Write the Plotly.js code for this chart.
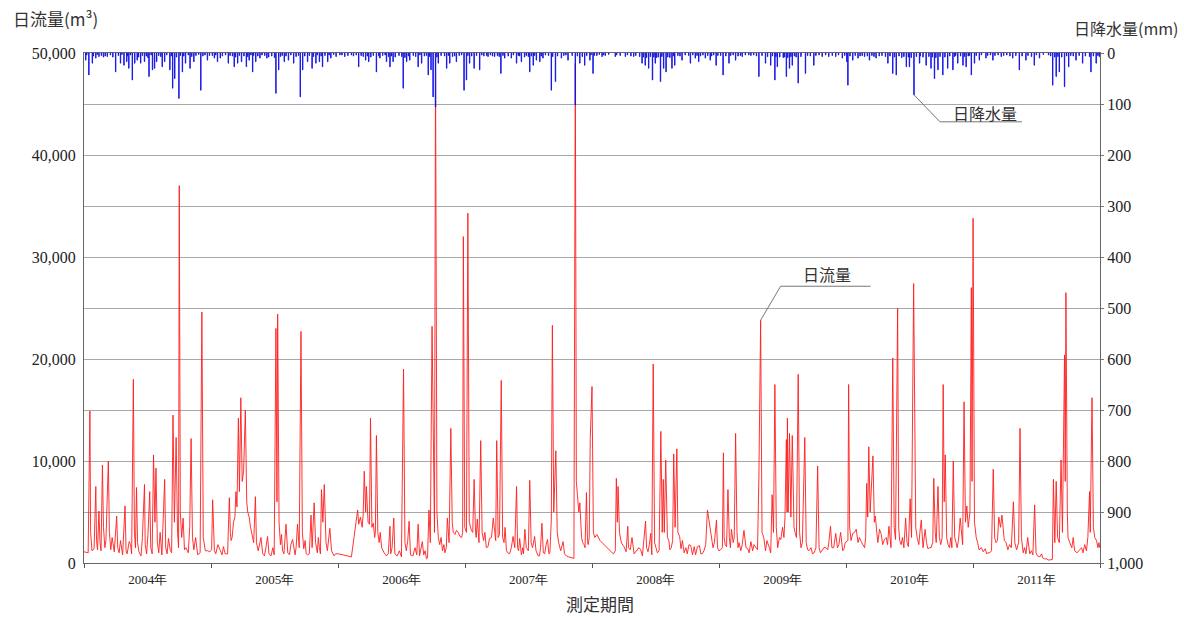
<!DOCTYPE html>
<html>
<head>
<meta charset="utf-8">
<script src="https://cdn.plot.ly/plotly-3.0.1.min.js"></script>
<style>
html,body{margin:0;padding:0;background:#fff;}
#chart{width:1184px;height:618px;}
</style>
</head>
<body>
<div id="chart"></div>
<script>
// ---- Daily flow (m3): peaks and shoulders ----
const flowDates = [
// 2004
'2004-01-01','2004-01-13','2004-01-18','2004-01-20','2004-01-30','2004-02-04','2004-02-06','2004-02-13','2004-02-16','2004-02-23','2004-02-26','2004-03-04','2004-03-11','2004-03-14','2004-03-28','2004-04-04','2004-04-07','2004-04-21','2004-04-28','2004-05-01','2004-05-10','2004-05-17','2004-05-22','2004-05-25','2004-05-31','2004-06-03','2004-06-13','2004-06-23','2004-06-25','2004-07-08','2004-07-11','2004-07-19','2004-07-23','2004-07-26','2004-07-30','2004-08-12','2004-08-20','2004-08-23','2004-09-05','2004-09-13','2004-09-17','2004-09-22','2004-09-26','2004-10-01','2004-10-04','2004-10-12','2004-10-20','2004-11-04','2004-11-08','2004-11-23','2004-12-05','2004-12-09','2004-12-22',
// 2005
'2005-01-02','2005-01-05','2005-01-10','2005-01-29','2005-02-05','2005-02-17','2005-02-22','2005-02-27','2005-03-06','2005-03-13','2005-03-16','2005-03-20','2005-03-23','2005-03-27','2005-03-31','2005-04-04','2005-04-09','2005-04-13','2005-04-20','2005-04-30','2005-05-08','2005-05-11','2005-05-24','2005-05-29','2005-06-12','2005-06-22','2005-07-06','2005-07-09','2005-07-11','2005-07-15','2005-07-25','2005-08-04','2005-08-09','2005-08-23','2005-08-30','2005-09-06','2005-09-11','2005-09-16','2005-09-20','2005-10-05','2005-10-15','2005-10-18','2005-10-24','2005-10-28','2005-11-08','2005-11-14','2005-11-18','2005-11-22','2005-11-27','2005-12-08','2005-12-13','2005-12-25',
// 2006
'2006-01-01','2006-02-08','2006-02-16','2006-02-20','2006-02-26','2006-03-01','2006-03-06','2006-03-11','2006-03-17','2006-03-21','2006-03-23','2006-03-28','2006-04-04','2006-04-08','2006-04-12','2006-04-16','2006-04-21','2006-04-25','2006-05-06','2006-05-20','2006-05-30','2006-06-01','2006-06-10','2006-06-13','2006-07-02','2006-07-08','2006-07-12','2006-07-24','2006-07-28','2006-08-19','2006-08-23','2006-08-31','2006-09-12','2006-09-19','2006-09-23','2006-09-28','2006-10-02','2006-10-08','2006-10-12','2006-10-20','2006-11-04','2006-11-11','2006-11-16','2006-11-21','2006-11-25','2006-12-03','2006-12-12','2006-12-22','2006-12-27','2006-12-31',
// 2007
'2007-01-05','2007-01-09','2007-01-13','2007-01-19','2007-01-27','2007-01-31','2007-02-05','2007-02-10','2007-02-15','2007-02-19','2007-03-03','2007-03-18','2007-03-23','2007-03-27','2007-04-02','2007-04-06','2007-04-15','2007-04-19','2007-04-30','2007-05-09','2007-05-19','2007-05-24','2007-05-29','2007-06-01','2007-06-07','2007-06-12','2007-06-22','2007-06-26','2007-07-06','2007-07-10','2007-07-20','2007-07-30','2007-08-10','2007-08-14','2007-08-26','2007-09-02','2007-09-06','2007-09-09','2007-09-13','2007-09-19','2007-09-23','2007-10-03','2007-10-10','2007-10-19','2007-11-03','2007-11-10','2007-11-14','2007-11-17','2007-11-20','2007-11-27','2007-12-02','2007-12-09','2007-12-16','2007-12-21','2007-12-27',
// 2008
'2008-01-01','2008-01-05','2008-01-15','2008-02-04','2008-02-28','2008-03-08','2008-03-11','2008-03-14','2008-03-16','2008-03-20','2008-03-27','2008-04-13','2008-04-15','2008-05-01','2008-05-15','2008-05-25','2008-06-03','2008-06-06','2008-06-18','2008-06-21','2008-06-25','2008-06-29','2008-07-12','2008-07-17','2008-07-21','2008-07-24','2008-07-27','2008-07-31','2008-08-05','2008-08-16','2008-08-23','2008-08-27','2008-09-01','2008-09-04','2008-09-09','2008-09-22','2008-10-06','2008-10-16','2008-10-30','2008-11-13','2008-11-28','2008-12-03','2008-12-07','2008-12-14','2008-12-24','2008-12-27',
// 2009
'2009-01-10','2009-01-13','2009-01-15','2009-01-26','2009-01-30','2009-02-05','2009-02-10','2009-02-17','2009-02-21','2009-02-27','2009-03-13','2009-03-19','2009-04-02','2009-04-16','2009-04-25','2009-04-30','2009-05-04','2009-05-09','2009-05-25','2009-06-02','2009-06-06','2009-06-10','2009-06-14','2009-06-23','2009-07-02','2009-07-13','2009-07-15','2009-07-16','2009-07-18','2009-07-22','2009-07-26','2009-07-30','2009-08-04','2009-08-11','2009-08-16','2009-08-20','2009-08-28','2009-09-04','2009-09-08','2009-09-16','2009-10-01','2009-10-11','2009-10-15','2009-10-24','2009-11-04','2009-11-17','2009-11-21','2009-12-02','2009-12-07','2009-12-16','2009-12-22','2009-12-29',
// 2010
'2010-01-06','2010-01-08','2010-01-11','2010-01-20','2010-01-30','2010-02-13','2010-02-23','2010-03-01','2010-03-04','2010-03-07','2010-03-11','2010-03-14','2010-03-19','2010-03-23','2010-03-26','2010-04-07','2010-04-21','2010-05-04','2010-05-10','2010-05-15','2010-05-19','2010-05-23','2010-05-29','2010-06-01','2010-06-08','2010-06-21','2010-06-25','2010-07-04','2010-07-08','2010-07-14','2010-07-17','2010-07-20','2010-08-05','2010-08-10','2010-08-16','2010-08-29','2010-09-07','2010-09-10','2010-09-14','2010-09-22','2010-09-26','2010-10-04','2010-10-07','2010-10-10','2010-10-13','2010-10-17','2010-10-25','2010-11-05','2010-11-09','2010-11-16','2010-11-25','2010-11-30','2010-12-06','2010-12-10','2010-12-14','2010-12-18','2010-12-23','2010-12-27','2010-12-29',
// 2011
'2011-01-01','2011-01-05','2011-01-10','2011-01-25','2011-02-13','2011-02-23','2011-02-28','2011-03-04','2011-03-08','2011-03-16','2011-03-21','2011-03-25','2011-03-31','2011-04-06','2011-04-21','2011-04-27','2011-05-01','2011-05-12','2011-05-16','2011-05-20','2011-05-25','2011-06-07','2011-06-13','2011-06-27','2011-07-01','2011-07-12','2011-07-26','2011-08-10','2011-08-17','2011-08-20','2011-08-24','2011-08-28','2011-09-01','2011-09-06','2011-09-11','2011-09-15','2011-09-21','2011-09-23','2011-09-25','2011-09-29','2011-10-06','2011-10-20','2011-11-04','2011-11-18','2011-11-27','2011-12-02','2011-12-04','2011-12-09','2011-12-13','2011-12-22','2011-12-31'
];
const flowValues = [
// 2004
1100,1000,14900,3000,1400,7500,2200,5100,2000,9600,3500,2200,10000,3000,1100,4600,1500,800,5600,1200,2100,900,18000,3000,7400,2000,700,7700,1800,7000,1500,10600,4000,9300,2000,800,8200,1500,1300,14500,4000,12300,3000,37000,5000,4400,1500,12200,2500,800,24600,2500,1200,
// 2005
1300,6200,1200,1000,1600,900,6400,2200,4000,7000,5500,14200,7000,16200,8000,9000,15000,6000,4500,2500,6500,2000,2500,900,2600,700,23000,6000,24400,4000,1200,3800,1000,2300,800,3800,1500,22700,3000,800,4700,1500,5900,2000,1500,7200,4000,7700,2000,3400,1200,900,
// 2006
900,600,2600,3500,5200,3800,4500,3500,9000,5000,7500,4000,14200,3500,3900,2500,12500,3000,1500,700,3600,900,4400,900,600,19000,2000,4100,800,3800,700,2100,400,5200,2000,23200,8000,49500,5000,1800,1000,4400,2000,13200,4000,2800,3000,2500,32000,3500,
// 2007
3000,34300,4000,3200,8200,3000,4300,2000,12000,3000,1500,2500,4400,3000,12000,2500,17900,2500,1200,900,2600,1500,7500,1500,2400,800,3300,1500,8100,2000,2600,700,3900,1000,2300,1000,4300,23300,5000,11000,3000,1200,2100,700,500,450,49000,8000,6700,5900,2500,1800,6900,1800,12200,
// 2008
17300,3000,2800,1800,1000,1200,8300,4000,7500,3000,1900,3600,1500,900,1500,700,4100,1500,2900,800,19500,2000,1200,12900,3000,8200,3000,10100,2500,1500,10700,3500,11200,3000,2600,1000,1800,800,1600,900,5200,4000,3000,1500,4200,1500,
// 2009
1500,10800,2500,7200,2500,3300,2000,12700,3000,2000,3200,1500,2100,1500,8500,23800,3000,2500,1500,6700,3000,17500,3500,2500,3500,12100,5000,14200,5000,12700,4500,12500,3500,2500,18500,3000,2000,12300,2000,1200,1000,9500,1500,1200,1500,3600,1500,2900,1500,3000,1200,2000,
// 2010
2200,17500,3500,2900,3300,2100,1500,7800,4500,11400,5000,7200,10500,4000,4600,3300,2300,3600,1500,20100,3500,2300,25000,3500,1800,4400,2000,6300,2500,27400,14200,3500,4200,1500,3300,1500,2000,8300,3000,7500,2500,2500,17500,6000,10600,2500,1500,10000,2500,1500,4400,2500,15800,4000,5600,3500,5000,27000,8000,
// 2011
33800,4000,2500,1500,1000,1200,9200,2500,2000,4500,3500,4700,2500,2000,1500,6000,2000,2000,13200,2500,1000,2500,900,5700,1000,600,400,300,350,8200,2000,8000,2500,2000,10100,3000,20400,8000,26500,5000,2000,1200,1300,1800,2500,7000,3000,16200,3500,2200,1500
];

// ---- Daily flow (m3): low-flow troughs and small bumps between events ----
const flowMinorDates = [
'2004-01-24','2004-02-09','2004-02-19','2004-03-01','2004-03-18','2004-03-22','2004-04-11','2004-04-15','2004-05-04','2004-05-14','2004-05-28','2004-06-07','2004-06-17','2004-06-29','2004-07-03','2004-07-15','2004-08-03','2004-08-07','2004-08-27','2004-08-31','2004-09-09','2004-09-29','2004-10-08','2004-10-16','2004-10-27','2004-10-31','2004-11-12','2004-11-17','2004-11-30','2004-12-15','2004-12-28',
'2005-01-14','2005-01-20','2005-02-01','2005-02-10','2005-02-25','2005-03-02','2005-03-10','2005-04-16','2005-04-24','2005-05-03','2005-05-16','2005-05-20','2005-06-03','2005-06-07','2005-06-16','2005-06-27','2005-07-01','2005-07-19','2005-07-22','2005-07-29','2005-08-14','2005-08-18','2005-09-02','2005-09-24','2005-09-28','2005-10-01','2005-10-10','2005-11-02','2005-11-05','2005-11-11','2005-12-01','2005-12-04','2005-12-17','2005-12-20',
'2006-01-15','2006-01-25','2006-03-04','2006-03-14','2006-03-26','2006-04-01','2006-04-18','2006-04-29','2006-05-02','2006-05-13','2006-05-25','2006-06-05','2006-06-20','2006-06-26','2006-07-16','2006-07-20','2006-08-04','2006-08-10','2006-08-15','2006-08-27','2006-09-04','2006-09-08','2006-09-15','2006-10-05','2006-10-16','2006-10-24','2006-10-28','2006-11-01','2006-11-08','2006-11-28','2006-12-07','2006-12-17','2006-12-25',
'2007-01-16','2007-01-23','2007-02-02','2007-02-23','2007-02-27','2007-03-08','2007-03-12','2007-03-30','2007-04-10','2007-04-23','2007-04-26','2007-05-04','2007-05-14','2007-06-04','2007-06-16','2007-06-18','2007-07-02','2007-07-14','2007-07-24','2007-08-03','2007-08-06','2007-08-18','2007-08-22','2007-08-30','2007-09-27','2007-10-06','2007-10-14','2007-10-26','2007-11-24','2007-12-05','2007-12-12','2007-12-19','2007-12-24',
'2008-01-09','2008-01-24','2008-02-15','2008-03-03','2008-03-24','2008-04-02','2008-04-08','2008-04-20','2008-04-25','2008-05-07','2008-05-20','2008-06-10','2008-06-14','2008-07-03','2008-07-07','2008-08-09','2008-08-12','2008-08-20','2008-09-13','2008-09-17','2008-09-27','2008-10-01','2008-10-11','2008-10-21','2008-10-25','2008-11-05','2008-11-09','2008-11-18','2008-11-23','2008-12-10','2008-12-18','2008-12-31',
'2009-01-05','2009-01-18','2009-01-22','2009-02-02','2009-02-13','2009-02-24','2009-03-04','2009-03-08','2009-03-24','2009-03-28','2009-04-07','2009-04-11','2009-04-21','2009-05-14','2009-05-18','2009-05-29','2009-06-18','2009-06-27','2009-07-06','2009-07-09','2009-08-07','2009-08-24','2009-09-12','2009-09-22','2009-09-26','2009-10-06','2009-10-19','2009-10-29','2009-11-09','2009-11-12','2009-11-26','2009-12-11','2009-12-26',
'2010-01-15','2010-01-25','2010-02-04','2010-02-08','2010-02-18','2010-02-26','2010-03-30','2010-04-02','2010-04-12','2010-04-16','2010-04-26','2010-04-30','2010-05-07','2010-06-04','2010-06-12','2010-06-16','2010-06-29','2010-07-24','2010-07-29','2010-08-01','2010-08-20','2010-08-24','2010-09-02','2010-09-17','2010-09-30','2010-10-21','2010-10-29','2010-11-01','2010-11-13','2010-11-20','2010-12-02',
'2011-01-14','2011-01-18','2011-01-30','2011-02-05','2011-02-09','2011-02-18','2011-03-12','2011-04-01','2011-04-11','2011-04-16','2011-05-06','2011-05-29','2011-06-02','2011-06-18','2011-06-22','2011-07-05','2011-07-17','2011-07-20','2011-08-01','2011-08-05','2011-10-01','2011-10-12','2011-10-16','2011-10-27','2011-11-09','2011-11-13','2011-11-23','2011-12-17','2011-12-26','2011-12-29'
];
const flowMinorValues = [
1200,1300,1200,1500,1300,2500,1000,2200,900,1800,1500,1100,2500,900,2800,900,1000,3000,900,2400,1000,1500,2500,1300,1000,3500,1300,2500,1000,1200,1100,
900,1800,800,900,3000,2500,4500,5000,3500,2000,1200,2000,700,1500,900,1500,800,1800,2800,900,800,1800,1500,1400,2200,900,900,1000,2500,900,1200,2000,900,700,
800,700,4200,4800,4500,3800,3000,2000,3000,1000,900,1500,700,1200,1200,2200,700,1500,800,1500,800,1200,500,3000,2500,2500,1200,1800,1500,3000,3200,2600,3000,
3500,3000,2500,2200,3000,1600,2400,2200,2800,2000,3500,1000,1500,1200,1500,900,1200,1500,1200,700,1500,900,1800,900,2000,1500,900,600,5000,2000,1500,2200,2500,
2500,2200,1400,900,2200,1600,1100,1300,2500,1200,1300,1100,1800,1500,1000,2200,1300,2200,1400,2200,1500,900,1700,1600,800,1700,900,1200,1800,2500,2000,1200,
1300,1800,1600,1500,2500,1500,1200,1800,1400,1000,1200,1800,1300,1200,2200,1000,1500,2300,2500,4500,3000,1500,1300,1500,900,1500,1000,1500,1300,2000,1500,1800,1400,
2200,3000,2000,2500,1800,2500,3000,2000,2800,1800,2500,1800,2000,2200,2500,1500,1600,2500,1800,3000,2000,1400,1500,2000,1800,1800,2500,1500,2000,2200,1800,
2000,1300,1100,1400,900,1000,2200,2200,1300,1800,1300,1500,900,1200,800,700,900,500,400,300,2500,1500,2500,1000,1500,1000,1200,2500,1500,2000
];

// ---- Daily rainfall (mm): main events ----
const rainDates = [
'2004-01-06','2004-01-15','2004-01-25','2004-02-04','2004-02-13','2004-02-26','2004-03-08','2004-04-01','2004-04-15','2004-04-25','2004-05-03','2004-05-09','2004-05-19','2004-05-26','2004-06-02','2004-06-12','2004-06-23','2004-07-06','2004-07-16','2004-07-22','2004-07-28','2004-08-13','2004-08-20','2004-09-04','2004-09-12','2004-09-18','2004-09-30','2004-10-10','2004-10-19','2004-11-01','2004-11-12','2004-12-02','2004-12-21',
'2005-01-10','2005-01-19','2005-01-27','2005-02-19','2005-03-08','2005-03-18','2005-03-29','2005-04-12','2005-04-20','2005-04-30','2005-05-09','2005-05-21','2005-06-10','2005-07-06','2005-07-14','2005-07-30','2005-08-11','2005-08-26','2005-09-14','2005-09-21','2005-10-05','2005-10-18','2005-10-29','2005-11-08','2005-11-17','2005-12-02','2005-12-11','2005-12-26',
'2006-01-06','2006-01-20','2006-02-08','2006-03-01','2006-03-21','2006-03-30','2006-04-21','2006-05-01','2006-05-20','2006-05-30','2006-06-08','2006-07-07','2006-07-17','2006-07-26','2006-08-19','2006-08-29','2006-09-17','2006-09-25','2006-10-01','2006-10-08','2006-10-16','2006-11-09','2006-11-18','2006-12-07','2006-12-29',
'2007-01-05','2007-01-14','2007-01-27','2007-02-12','2007-03-08','2007-03-27','2007-04-14','2007-04-25','2007-05-14','2007-05-29','2007-06-12','2007-07-06','2007-07-16','2007-07-25','2007-08-04','2007-08-13','2007-09-06','2007-09-18','2007-10-05','2007-10-24','2007-11-14','2007-11-27','2007-12-11','2007-12-26',
'2008-01-04','2008-01-15','2008-01-30','2008-02-08','2008-03-08','2008-04-06','2008-04-30','2008-05-24','2008-06-02','2008-06-12','2008-06-23','2008-07-01','2008-07-16','2008-07-25','2008-08-01','2008-08-18','2008-08-26','2008-09-16','2008-10-10','2008-10-24','2008-11-03','2008-11-22','2008-12-06','2008-12-23',
'2009-01-12','2009-01-29','2009-02-17','2009-03-08','2009-03-27','2009-04-25','2009-05-14','2009-05-29','2009-06-10','2009-06-17','2009-07-13','2009-07-22','2009-07-30','2009-08-16','2009-09-06','2009-09-30','2009-10-24','2009-11-12','2009-12-02','2009-12-21',
'2010-01-03','2010-01-06','2010-01-20','2010-02-04','2010-02-23','2010-03-09','2010-03-28','2010-05-01','2010-05-15','2010-05-25','2010-06-23','2010-07-02','2010-07-15','2010-07-31','2010-08-19','2010-09-02','2010-09-12','2010-09-22','2010-10-06','2010-10-20','2010-11-04','2010-11-18','2010-12-03','2010-12-12','2010-12-27',
'2011-01-05','2011-01-19','2011-02-07','2011-02-27','2011-03-23','2011-04-25','2011-05-14','2011-06-02','2011-06-26','2011-07-11','2011-08-18','2011-08-28','2011-09-06','2011-09-21','2011-10-03','2011-10-24','2011-11-12','2011-12-06','2011-12-21','2011-12-30'
];
const rainValues = [
14,43,20,10,7,8,7,37,20,24,17,30,53,20,14,20,17,46,33,30,17,27,17,33,69,50,89,37,20,30,17,73,14,
10,17,10,20,27,20,17,27,14,37,17,10,10,79,33,17,14,20,86,33,17,30,20,17,27,17,10,7,
4,7,4,27,14,17,37,10,17,27,17,69,17,14,27,20,43,33,86,106,20,30,20,17,73,
53,20,30,33,7,7,40,10,10,20,17,37,24,14,17,10,73,56,10,14,102,20,24,14,
40,5,7,5,7,7,7,20,24,30,53,20,56,30,37,30,24,14,20,10,17,10,14,24,
43,20,14,7,4,46,20,24,53,27,46,30,24,59,40,24,7,7,7,10,
17,63,14,10,7,14,10,20,40,43,27,27,82,20,24,30,50,33,43,30,33,20,24,27,43,
20,14,10,14,7,10,33,14,24,10,63,46,37,66,27,14,20,37,20,7
];

// ---- Daily rainfall (mm): small rain days forming the band along the top ----
const rainSmallDates = [
'2004-01-09','2004-01-28','2004-02-08','2004-02-20','2004-03-02','2004-03-17','2004-03-24','2004-04-09','2004-04-19','2004-05-05','2004-05-14','2004-06-06','2004-06-17','2004-06-28','2004-07-03','2004-07-12','2004-08-03','2004-08-09','2004-08-26','2004-09-08','2004-09-23','2004-10-04','2004-10-14','2004-10-27','2004-11-06','2004-11-18','2004-11-26','2004-12-08','2004-12-14','2004-12-27',
'2005-01-04','2005-01-14','2005-02-02','2005-02-11','2005-02-24','2005-03-03','2005-03-12','2005-03-23','2005-04-05','2005-04-16','2005-04-25','2005-05-03','2005-05-15','2005-05-27','2005-06-04','2005-06-15','2005-06-24','2005-07-02','2005-07-19','2005-07-24','2005-08-04','2005-08-18','2005-09-02','2005-09-09','2005-09-27','2005-10-10','2005-10-22','2005-11-02','2005-11-13','2005-11-24','2005-12-06','2005-12-19',
'2006-01-12','2006-01-29','2006-02-14','2006-02-22','2006-03-08','2006-03-14','2006-03-26','2006-04-05','2006-04-12','2006-04-28','2006-05-09','2006-05-16','2006-05-26','2006-06-03','2006-06-14','2006-06-25','2006-07-03','2006-07-12','2006-07-22','2006-08-05','2006-08-12','2006-08-24','2006-09-06','2006-09-12','2006-09-21','2006-10-12','2006-10-24','2006-11-03','2006-11-14','2006-11-26','2006-12-02','2006-12-15','2006-12-22',
'2007-01-09','2007-01-20','2007-02-03','2007-02-18','2007-02-24','2007-03-04','2007-03-15','2007-03-21','2007-04-04','2007-04-09','2007-04-20','2007-05-05','2007-05-20','2007-06-03','2007-06-07','2007-06-21','2007-06-26','2007-07-02','2007-07-11','2007-07-20','2007-08-08','2007-08-20','2007-08-29','2007-09-10','2007-09-24','2007-10-12','2007-10-18','2007-11-05','2007-11-20','2007-12-04','2007-12-17','2007-12-29',
'2008-01-08','2008-01-22','2008-02-03','2008-02-18','2008-03-12','2008-03-22','2008-04-12','2008-04-22','2008-05-06','2008-05-17','2008-05-28','2008-06-06','2008-06-17','2008-06-27','2008-07-05','2008-07-10','2008-07-20','2008-08-06','2008-08-12','2008-08-22','2008-09-04','2008-09-10','2008-09-25','2008-10-05','2008-10-17','2008-10-29','2008-11-08','2008-11-15','2008-11-29','2008-12-10','2008-12-16','2008-12-28',
'2009-01-05','2009-01-20','2009-02-03','2009-02-10','2009-02-24','2009-03-03','2009-03-17','2009-04-02','2009-04-10','2009-04-18','2009-05-04','2009-05-20','2009-06-03','2009-06-13','2009-06-24','2009-07-04','2009-07-08','2009-07-17','2009-07-26','2009-08-05','2009-08-10','2009-08-24','2009-09-12','2009-09-20','2009-10-06','2009-10-15','2009-11-03','2009-11-22','2009-12-10','2009-12-28',
'2010-01-12','2010-01-27','2010-02-10','2010-02-16','2010-03-03','2010-03-16','2010-03-22','2010-04-06','2010-04-14','2010-04-24','2010-05-07','2010-05-20','2010-06-02','2010-06-10','2010-06-16','2010-06-29','2010-07-07','2010-07-22','2010-08-02','2010-08-10','2010-08-27','2010-09-06','2010-09-16','2010-09-28','2010-10-12','2010-10-26','2010-11-09','2010-11-12','2010-11-26','2010-12-07','2010-12-18','2010-12-22',
'2011-01-10','2011-01-25','2011-02-12','2011-02-20','2011-03-05','2011-03-14','2011-03-30','2011-04-08','2011-04-17','2011-05-04','2011-05-22','2011-06-08','2011-06-18','2011-07-02','2011-07-22','2011-08-06','2011-08-12','2011-08-24','2011-09-02','2011-09-13','2011-09-27','2011-10-09','2011-10-16','2011-11-02','2011-11-20','2011-12-02','2011-12-13','2011-12-26'
];
const rainSmallValues = [
4,6,3,5,6,4,8,5,3,6,4,8,5,6,9,4,5,7,4,6,8,5,6,4,7,5,3,6,4,5,
5,4,6,4,5,6,8,5,6,7,4,5,6,4,5,8,6,9,7,5,6,4,7,5,6,5,7,4,6,5,4,3,
4,5,6,4,5,7,6,8,5,6,5,4,7,6,8,5,7,9,6,5,7,4,6,5,7,8,5,6,5,7,6,5,4,
5,6,5,4,6,5,4,6,5,7,5,6,4,5,6,8,5,7,6,5,6,4,5,7,6,5,4,5,6,7,5,4,
5,3,4,3,4,5,4,6,5,7,8,9,7,8,9,8,7,8,9,6,5,6,4,5,4,5,6,4,5,6,4,5,
5,6,5,4,6,5,4,5,4,6,5,7,6,7,8,9,8,9,7,6,8,7,5,6,5,4,4,5,4,5,
6,5,6,5,6,5,7,6,5,7,6,8,6,9,7,8,9,7,6,8,7,8,9,7,8,6,7,5,6,7,6,5,
5,4,5,4,5,4,5,4,6,5,6,5,7,4,3,4,6,8,7,8,6,5,6,5,6,7,6,5
];

const leftTicks = [0, 10000, 20000, 30000, 40000, 50000];
const rightTicks = [0, 100, 200, 300, 400, 500, 600, 700, 800, 900, 1000];

// merge the flow point lists in date order
const flowAll = flowDates.map((d, i) => [d, flowValues[i]])
  .concat(flowMinorDates.map((d, i) => [d, flowMinorValues[i]]))
  .sort((a, b) => (a[0] < b[0] ? -1 : a[0] > b[0] ? 1 : 0));

const serif = "'Liberation Serif', 'Times New Roman', serif";
const cjk = "'Noto Sans CJK JP', 'Liberation Serif', sans-serif";
const DAY = 86400000;
const allRainDates = rainDates.concat(rainSmallDates);
const allRainValues = rainValues.concat(rainSmallValues);

const traces = [
  {
    type: 'bar',
    x: allRainDates,
    y: allRainValues,
    yaxis: 'y2',
    width: allRainDates.map(() => DAY * 1.2),
    marker: {color: '#1414e6', line: {color: '#1414e6', width: 0.9}},
    showlegend: false
  },
  {
    type: 'scatter',
    mode: 'lines',
    x: flowAll.map(p => p[0]),
    y: flowAll.map(p => p[1]),
    line: {color: 'rgba(255,30,30,0.9)', width: 1},
    showlegend: false
  }
];

const layout = {
  width: 1184,
  height: 618,
  margin: {l: 84, r: 84, t: 53, b: 55, pad: 0},
  paper_bgcolor: '#ffffff',
  plot_bgcolor: '#ffffff',
  bargap: 0,
  showlegend: false,
  xaxis: {
    type: 'date',
    range: ['2004-01-01', '2012-01-01'],
    tick0: '2004-01-01',
    dtick: 'M12',
    ticklabelmode: 'period',
    tickformat: '%Y年',
    ticks: 'outside',
    ticklen: 4,
    tickcolor: '#555',
    showgrid: false,
    showline: true,
    linecolor: '#666',
    linewidth: 1,
    mirror: true,
    zeroline: false,
    tickfont: {family: serif, size: 13, color: '#222'}
  },
  yaxis: {
    range: [0, 50000],
    tickvals: leftTicks,
    tickformat: ',d',
    showgrid: false,
    zeroline: false,
    showline: true,
    linecolor: '#666',
    ticks: '',
    ticklabelstandoff: 4,
    tickfont: {family: serif, size: 16, color: '#222'}
  },
  yaxis2: {
    overlaying: 'y',
    side: 'right',
    range: [1000, 0],
    tickvals: rightTicks,
    tickformat: ',d',
    showgrid: true,
    gridcolor: '#a8a8a8',
    gridwidth: 1,
    zeroline: false,
    showline: true,
    linecolor: '#666',
    ticks: 'outside',
    ticklen: 3,
    tickcolor: '#777',
    tickfont: {family: serif, size: 16, color: '#222'}
  },
  annotations: [
    {xref: 'paper', yref: 'paper', x: -0.072, y: 1.067, xanchor: 'left', yanchor: 'middle',
     text: '日流量(m³)', showarrow: false, font: {family: cjk, size: 17, color: '#333'}},
    {xref: 'paper', yref: 'paper', x: 1.079, y: 1.049, xanchor: 'right', yanchor: 'middle',
     text: '日降水量(mm)', showarrow: false, font: {family: cjk, size: 16, color: '#333'}},
    {xref: 'paper', yref: 'paper', x: 0.508, y: -0.08, xanchor: 'center', yanchor: 'middle',
     text: '測定期間', showarrow: false, font: {family: cjk, size: 17, color: '#333'}},
    {xref: 'x', yref: 'y', x: '2009-04-30', y: 23800, xshift: 66, yshift: 46,
     text: '日流量', showarrow: false, font: {family: cjk, size: 16, color: '#333'}},
    {xref: 'x', yref: 'y2', x: '2010-07-15', y: 82, xshift: 71, yshift: -18,
     text: '日降水量', showarrow: false, font: {family: cjk, size: 16, color: '#333'}}
  ],
  shapes: [
    {type: 'path', xref: 'x', yref: 'y', xsizemode: 'pixel', ysizemode: 'pixel',
     xanchor: '2009-04-30', yanchor: 23800,
     path: 'M0,0 L20,34 L110,34', line: {color: '#777', width: 1}},
    {type: 'path', xref: 'x', yref: 'y2', xsizemode: 'pixel', ysizemode: 'pixel',
     xanchor: '2010-07-15', yanchor: 82,
     path: 'M0,0 L26,-27 L108,-27', line: {color: '#777', width: 1}}
  ]
};

Plotly.newPlot('chart', traces, layout, {staticPlot: true, displayModeBar: false});
</script>
</body>
</html>
